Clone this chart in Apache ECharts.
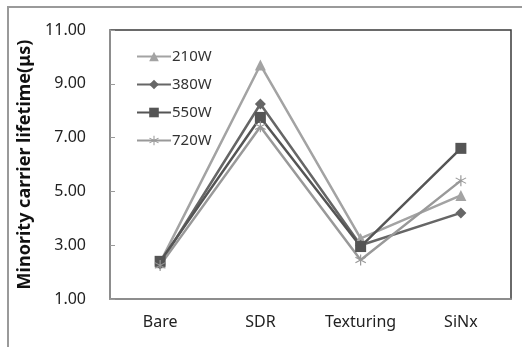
<!DOCTYPE html>
<html>
<head>
<meta charset="utf-8">
<script src="https://cdn.jsdelivr.net/npm/echarts@6/dist/echarts.min.js"></script>
<style>
  html, body { margin: 0; padding: 0; background: #fff; }
  #frame { position: absolute; left: 7px; top: 6px; width: 530px; height: 360px;
           border-left: 2px solid #9a9a9a; border-top: 2px solid #9a9a9a; }
  #chart { position: absolute; left: 0; top: 0; width: 522px; height: 347px; }
</style>
</head>
<body>
<div id="frame"></div>
<div id="chart"></div>
<script>
// 数据
var categories = ['Bare', 'SDR', 'Texturing', 'SiNx'];
var seriesNames = ['210W', '380W', '550W', '720W'];
var life210 = [2.35, 9.7, 3.25, 4.85];
var life380 = [2.3, 8.25, 3.0, 4.2];
var life550 = [2.4, 7.75, 2.95, 6.6];
var life720 = [2.25, 7.4, 2.45, 5.4];
var yTicks = [1, 3, 5, 7, 9, 11];

// 星号符号
var asterisk = 'path://M4.5 0 L5.5 0 L5.5 10 L4.5 10 Z ' +
  'M0.92 2.07 L9.58 7.07 L9.08 7.93 L0.42 2.93 Z ' +
  'M0.42 7.07 L9.08 2.07 L9.58 2.93 L0.92 7.93 Z';

var font = '"Noto Sans", "Open Sans", sans-serif';

function makeSeries(name, data, color, symbol, size) {
  return {
    name: name,
    type: 'line',
    data: data,
    symbol: symbol,
    symbolSize: size,
    lineStyle: { color: color, width: 2.5 },
    itemStyle: { color: color },
    animation: false
  };
}

var myChart = echarts.init(document.getElementById('chart'));
myChart.setOption({
  animation: false,
  textStyle: { fontFamily: font },
  grid: {
    left: 110, top: 30, right: 11, bottom: 48,
    show: true, borderColor: '#3a3a3a', borderWidth: 1.5
  },
  legend: {
    orient: 'vertical',
    left: 131, top: 44,
    itemGap: 13,
    itemWidth: 34, itemHeight: 12,
    textStyle: { fontSize: 15, color: '#333', fontFamily: font, padding: [0, 0, 0, -4] },
    data: seriesNames
  },
  xAxis: {
    type: 'category',
    data: categories,
    boundaryGap: true,
    axisLine: { lineStyle: { color: '#9a9a9a', width: 1.5 } },
    axisTick: { inside: true, length: 5, lineStyle: { color: '#9a9a9a' } },
    axisLabel: { fontSize: 16, color: '#222', margin: 15 }
  },
  yAxis: {
    type: 'value',
    min: yTicks[0],
    max: yTicks[yTicks.length - 1],
    interval: 2,
    name: 'Minority carrier lifetime(μs)',
    nameLocation: 'middle',
    nameGap: 70,
    nameTextStyle: { fontSize: 18, fontWeight: 'bold', color: '#111' },
    axisLine: { show: true, lineStyle: { color: '#9a9a9a', width: 1.5 } },
    axisTick: { show: true, inside: true, length: 5, lineStyle: { color: '#9a9a9a' } },
    splitLine: { show: false },
    axisLabel: {
      fontSize: 16, color: '#222', margin: 24,
      formatter: function (v) { return v.toFixed(2); }
    }
  },
  series: [
    makeSeries('210W', life210, '#a3a3a3', 'triangle', 11),
    makeSeries('380W', life380, '#666666', 'diamond', 11),
    makeSeries('550W', life550, '#555555', 'rect', 11),
    makeSeries('720W', life720, '#999999', asterisk, 11)
  ]
});
</script>
</body>
</html>
